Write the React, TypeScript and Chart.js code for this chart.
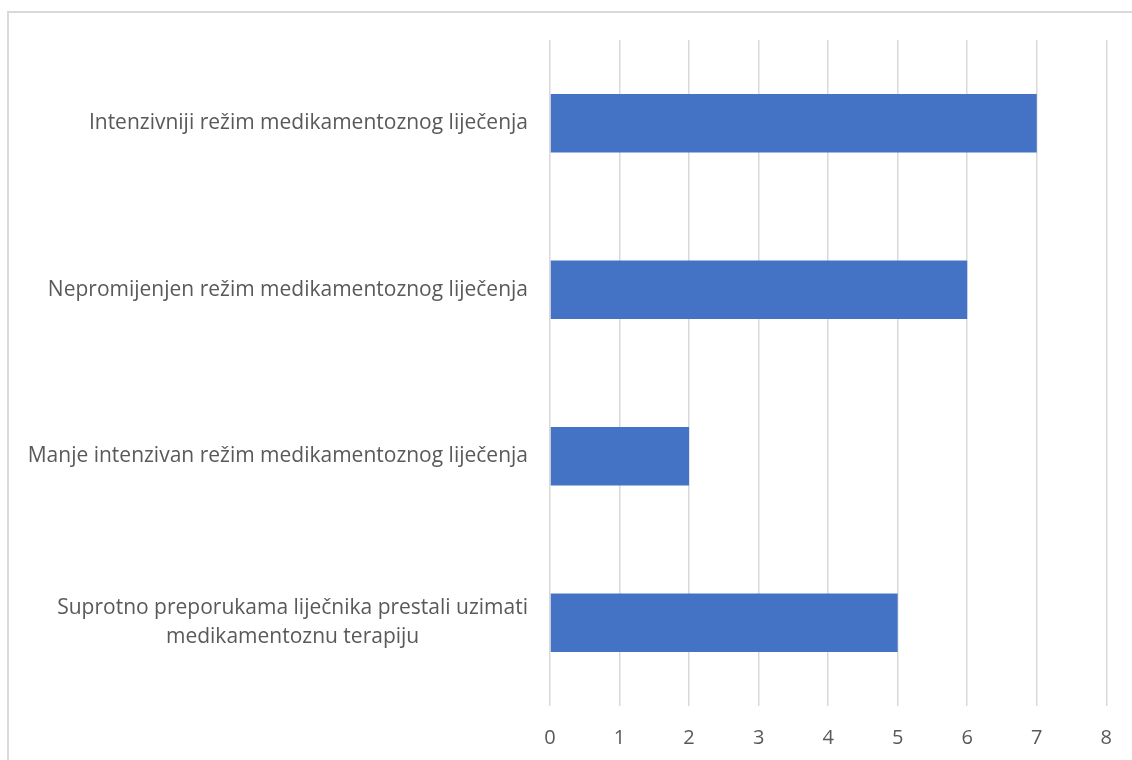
import React, { useEffect, useRef } from "react";
import { Chart, registerables } from "chart.js";

Chart.register(...registerables);

const categories: string[][] = [
  ["Intenzivniji režim medikamentoznog liječenja"],
  ["Nepromijenjen režim medikamentoznog liječenja"],
  ["Manje intenzivan režim medikamentoznog liječenja"],
  ["Suprotno preporukama liječnika prestali uzimati", "medikamentoznu terapiju"],
];
const values: number[] = [7, 6, 2, 5];
const xTicks: number[] = [0, 1, 2, 3, 4, 5, 6, 7, 8];

const BAR_COLOR = "#4472C4";
const GRID_COLOR = "#D9D9D9";
const TEXT_COLOR = "#595959";
const FONT_FAMILY = "'Open Sans', 'Liberation Sans', sans-serif";
const LABEL_SIZE = 21;
const TICK_SIZE = 20;
const PLOT_LEFT = 550;
const LABEL_RIGHT = 528;

const yLabelPlugin = {
  id: "yLabelPlugin",
  afterDraw(chart: any) {
    const ctx = chart.ctx;
    const yScale = chart.scales.y;
    ctx.save();
    ctx.font = `${LABEL_SIZE}px ${FONT_FAMILY}`;
    ctx.fillStyle = TEXT_COLOR;
    ctx.textAlign = "center";
    ctx.textBaseline = "middle";
    const lineH = 29;
    categories.forEach((lines, i) => {
      const yc = yScale.getPixelForTick(i);
      const widths = lines.map((l) => ctx.measureText(l).width);
      const w = Math.max(...widths);
      const cx = LABEL_RIGHT - w / 2;
      const startY = yc - ((lines.length - 1) * lineH) / 2;
      lines.forEach((l, j) => ctx.fillText(l, cx, startY + j * lineH));
    });
    ctx.restore();
  },
};

export default function App() {
  const ref = useRef<HTMLCanvasElement | null>(null);
  useEffect(() => {
    if (!ref.current) return;
    const chart = new Chart(ref.current, {
      type: "bar",
      data: {
        labels: categories.map((c) => c.join(" ")),
        datasets: [
          {
            data: values,
            backgroundColor: BAR_COLOR,
            borderWidth: 0,
            categoryPercentage: 1,
            barPercentage: 0.35,
          },
        ],
      },
      options: {
        indexAxis: "y",
        animation: false,
        responsive: false,
        maintainAspectRatio: false,
        layout: { padding: { top: 40, right: 24, left: 0, bottom: 0 } },
        plugins: { legend: { display: false }, tooltip: { enabled: false } },
        scales: {
          x: {
            min: xTicks[0],
            max: xTicks[xTicks.length - 1],
            afterBuildTicks: (scale: any) => {
              scale.ticks = xTicks.map((v) => ({ value: v }));
            },
            afterFit: (scale: any) => {
              scale.height = 54;
            },
            grid: { color: GRID_COLOR, lineWidth: 1.5, drawTicks: false },
            border: { display: false },
            ticks: {
              color: TEXT_COLOR,
              font: { family: FONT_FAMILY, size: TICK_SIZE },
              padding: 20,
            },
          },
          y: {
            afterFit: (scale: any) => {
              scale.width = PLOT_LEFT;
            },
            grid: { display: false, drawTicks: false },
            border: { display: false },
            ticks: { display: false },
          },
        },
      },
      plugins: [yLabelPlugin],
    });
    return () => chart.destroy();
  }, []);
  return (
    <div>
      <div
        style={{
          position: "fixed",
          left: 7,
          top: 11,
          width: 1200,
          height: 800,
          border: "2px solid #D9D9D9",
          boxSizing: "border-box",
        }}
      />
      <canvas
        ref={ref}
        width={1132}
        height={760}
        style={{ position: "fixed", left: 0, top: 0, width: 1132, height: 760 }}
      />
    </div>
  );
}
